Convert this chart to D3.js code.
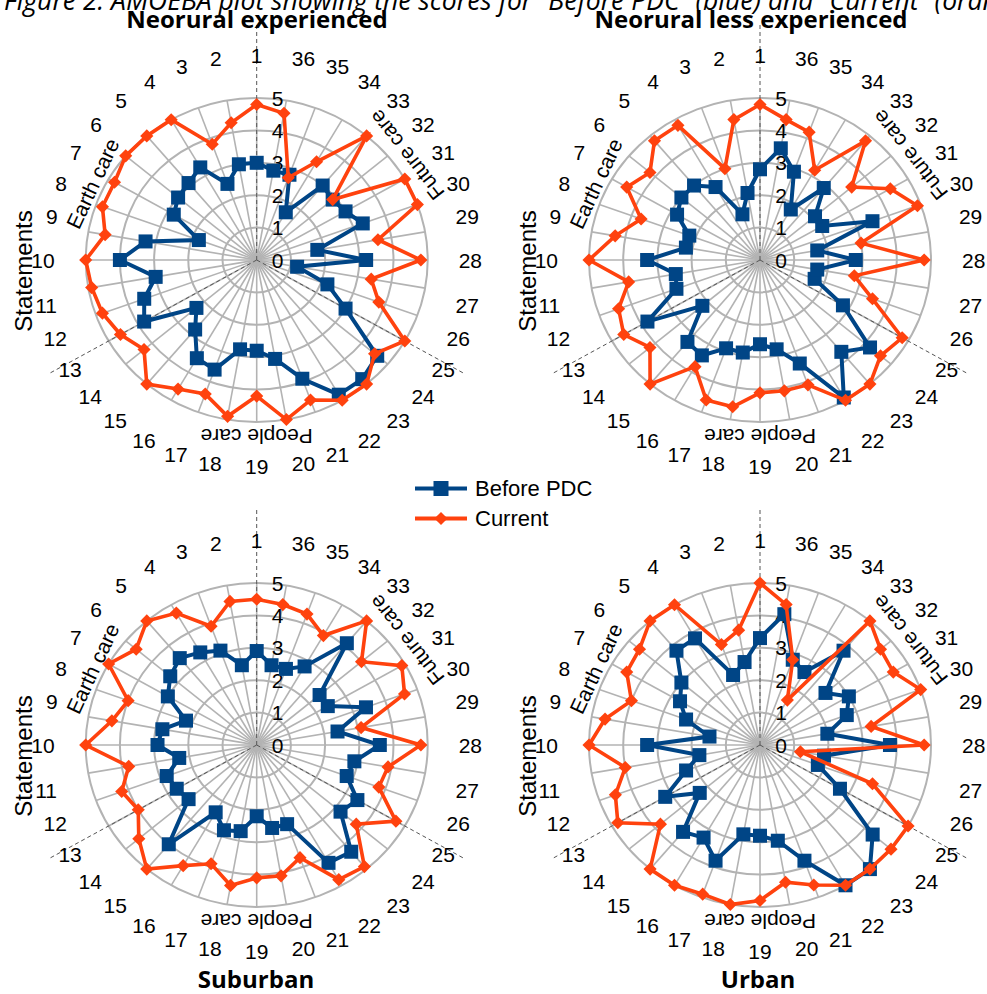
<!DOCTYPE html>
<html><head><meta charset="utf-8">
<script src="https://cdn.jsdelivr.net/npm/d3@7"></script>
<style>body{margin:0;background:#fff}svg{display:block}</style>
</head><body>
<svg id="c" width="987" height="994"></svg>
<script>
// ---------- data ----------
const statements = d3.range(1, 37);            // statement numbers 1..36
const radialTicks = [0, 1, 2, 3, 4, 5];
const seriesNames = ["Before PDC", "Current"];
const seriesColors = ["#004586", "#ff420e"];
const categoryLabels = ["Earth care", "People care", "Future care"];
const panelTitles = ["Neorural experienced", "Neorural less experienced", "Suburban", "Urban"];
const figureCaption = "Figure 2: AMOEBA plot showing the scores for \u201cBefore PDC\u201d (blue) and \u201cCurrent\u201d (orange)";

const neoExpBefore   = [3.0,3.0,2.5,3.3,3.1,3.0,2.8,1.8,3.3,4.0,3.0,3.5,3.8,2.3,2.8,3.5,3.6,2.8,2.8,3.1,3.9,4.8,4.8,4.6,3.0,2.2,1.2,3.2,1.8,3.3,3.0,2.9,3.0,1.7,2.8,2.8];
const neoExpCurrent  = [4.8,4.3,3.8,5.0,5.0,5.0,4.8,4.8,4.5,5.0,4.9,4.8,4.6,4.3,5.0,4.6,4.4,4.9,4.2,5.0,4.6,5.0,5.0,4.5,5.0,3.8,3.4,4.8,3.6,5.0,5.0,2.9,5.0,3.5,2.7,4.6];
const neoLessBefore  = [2.8,2.1,1.5,2.6,3.0,3.0,2.8,2.2,2.2,3.3,2.5,2.6,3.8,2.2,3.3,3.4,2.9,2.9,2.6,2.8,3.4,4.9,3.7,4.2,2.8,1.7,1.7,2.8,1.7,3.5,2.1,2.1,2.9,1.8,2.9,3.5];
const neoLessCurrent = [4.8,4.4,3.0,4.8,4.8,4.2,4.5,3.7,4.3,5.0,3.9,4.4,4.6,4.2,5.0,3.8,4.6,4.6,4.1,4.1,4.1,5.0,5.0,4.6,4.8,3.5,2.8,4.8,3.0,4.9,4.4,3.5,4.8,3.2,4.2,4.4];
const suburbanBefore = [2.9,2.5,3.1,3.3,3.5,3.3,3.0,2.2,2.8,2.9,2.3,2.8,2.7,2.6,4.0,2.4,2.8,2.7,2.2,2.6,2.6,4.2,4.3,3.2,3.4,2.8,2.9,3.6,2.4,3.4,2.4,2.4,4.1,2.8,2.5,2.5];
const suburbanCurrent= [4.5,4.5,3.9,4.7,5.0,4.6,5.0,4.0,4.3,5.0,3.8,4.2,4.0,4.5,5.0,4.3,3.9,4.4,4.1,4.1,3.7,4.8,4.9,3.8,4.7,3.8,3.9,4.8,3.1,4.6,4.9,4.0,5.0,3.9,4.3,4.4];
const urbanBefore    = [3.3,2.6,2.3,3.8,3.8,3.0,2.7,2.3,1.5,3.3,1.8,2.3,3.2,2.3,3.5,3.3,3.8,2.8,2.8,3.0,3.8,5.0,5.0,4.3,2.7,1.8,1.9,3.8,2.0,2.7,3.0,2.5,3.8,2.6,2.8,4.1];
const urbanCurrent   = [5.0,3.6,3.3,5.0,5.0,4.6,4.5,4.0,4.6,5.0,4.0,4.5,4.8,3.8,5.0,5.0,4.9,5.0,4.8,4.3,4.6,5.0,5.0,5.0,5.0,3.5,1.2,4.8,3.3,5.0,4.5,4.6,5.0,1.6,2.8,4.4];

const panels = [
  {title: panelTitles[0], series: [neoExpBefore, neoExpCurrent]},
  {title: panelTitles[1], series: [neoLessBefore, neoLessCurrent]},
  {title: panelTitles[2], series: [suburbanBefore, suburbanCurrent]},
  {title: panelTitles[3], series: [urbanBefore, urbanCurrent]}
];

// ---------- layout ----------
const svg = d3.select("#c");
const centers = [[256.7, 260], [760, 260], [256.7, 745], [760, 745]];
const titlePos = [[257, 28], [751, 28], [256, 988], [758, 988]];
const RX = 171, RY = 162;   // pixel radius of value 5 (horizontal / vertical)
const rx = d3.scaleLinear().domain([0, 5]).range([0, RX]);
const ry = d3.scaleLinear().domain([0, 5]).range([0, RY]);
const angle = d3.scaleLinear().domain([1, 37]).range([0, 2 * Math.PI]); // CCW from top
const numFont = "'Liberation Sans', Arial, sans-serif";
const labFS = 21;

function pt(k, v) {
  const a = angle(k);
  return [-Math.sin(a) * rx(v), -Math.cos(a) * ry(v)];
}

// caption (cut at top, as in the source)
svg.append("text").attr("x", 4).attr("y", 10)
  .attr("font-family", "'Open Sans', sans-serif").attr("font-style", "italic")
  .attr("font-size", 26.5).attr("fill", "#000").text(figureCaption);

panels.forEach((p, i) => {
  const [cx, cy] = centers[i];
  const g = svg.append("g").attr("transform", `translate(${cx},${cy})`);

  // rings
  g.selectAll("ellipse.ring").data(radialTicks.filter(d => d > 0)).join("ellipse")
    .attr("rx", d => rx(d)).attr("ry", d => ry(d))
    .attr("fill", "none").attr("stroke", "#b3b3b3").attr("stroke-width", 2);
  // spokes
  g.selectAll("line.spoke").data(statements).join("line")
    .attr("x1", 0).attr("y1", 0)
    .attr("x2", d => pt(d, 5)[0]).attr("y2", d => pt(d, 5)[1])
    .attr("stroke", "#b3b3b3").attr("stroke-width", 1.6);

  // dashed category separators (between 36|1, 12|13, 24|25)
  [0.5, 12.5, 24.5].forEach(k => {
    const [ux, uy] = pt(k + 0.5, 5);
    const len = Math.hypot(ux, uy), L = 238;
    g.append("line").attr("x1", 0).attr("y1", 0)
      .attr("x2", ux / len * L).attr("y2", uy / len * L)
      .attr("stroke", "#555").attr("stroke-width", 1).attr("stroke-dasharray", "4,3");
  });

  // value tick labels
  g.selectAll("text.tick").data(radialTicks).join("text")
    .attr("x", 21).attr("y", d => -ry(d)).attr("dy", "0.36em")
    .attr("text-anchor", "middle").attr("font-family", numFont).attr("font-size", labFS)
    .attr("fill", "#000").text(d => d);

  // statement labels: nearest corner of the label box sits on an outer ellipse
  g.selectAll("text.stmt").data(statements).join("text")
    .each(function(d) {
      const a = angle(d), s = String(d);
      const hw = s.length * 0.556 * labFS / 2;
      const dx = -Math.sin(a), dy = -Math.cos(a);
      const sx = Math.abs(dx) < 1e-6 ? 0 : Math.sign(dx);
      const sy = Math.abs(dy) < 1e-6 ? 0 : Math.sign(dy);
      const x = dx * 202 + sx * hw;
      const y = dy * 195 + (sy < 0 ? -10 : (sy > 0 ? 11.5 : 0));
      d3.select(this).attr("x", x).attr("y", y);
    })
    .attr("dy", "0.36em").attr("text-anchor", "middle")
    .attr("font-family", numFont).attr("font-size", labFS).attr("fill", "#000")
    .text(d => d);

  // category labels along the ring
  const catSpec = [
    {t: categoryLabels[0], phi: 65, r: 181, rot: -65},
    {t: categoryLabels[1], phi: 180, r: 177, rot: 180},
    {t: categoryLabels[2], phi: -55, r: 183, rot: -128}
  ];
  catSpec.forEach(c => {
    const a = c.phi * Math.PI / 180;
    const x = -Math.sin(a) * c.r, y = -Math.cos(a) * c.r;
    g.append("text").attr("transform", `translate(${x},${y}) rotate(${c.rot})`)
      .attr("text-anchor", "middle").attr("dy", "0.36em")
      .attr("font-family", numFont).attr("font-size", labFS).attr("fill", "#000").text(c.t);
  });

  // axis title
  g.append("text").attr("transform", `translate(-233,11) rotate(-90)`)
    .attr("text-anchor", "middle").attr("dy", "0.36em")
    .attr("font-family", numFont).attr("font-size", 24).attr("fill", "#000").text("Statements");

  // series
  const line = d3.line().x(d => d[0]).y(d => d[1]).curve(d3.curveLinearClosed);
  p.series.forEach((vals, si) => {
    const pts = vals.map((v, j) => pt(statements[j], v));
    g.append("path").attr("d", line(pts)).attr("fill", "none")
      .attr("stroke", seriesColors[si]).attr("stroke-width", si === 0 ? 4 : 3.6)
      .attr("stroke-linejoin", "miter");
    const m = g.append("g");
    if (si === 0) {
      m.selectAll("rect").data(pts).join("rect")
        .attr("x", d => d[0] - 7).attr("y", d => d[1] - 7).attr("width", 14).attr("height", 14)
        .attr("fill", seriesColors[si]);
    } else {
      m.selectAll("path").data(pts).join("path")
        .attr("d", d3.symbol(d3.symbolDiamond2 || d3.symbolDiamond, 110))
        .attr("transform", d => `translate(${d[0]},${d[1]})`)
        .attr("fill", seriesColors[si]);
    }
  });

  // panel title
  svg.append("text").attr("x", titlePos[i][0]).attr("y", titlePos[i][1])
    .attr("text-anchor", "middle").attr("font-family", "'Open Sans', sans-serif")
    .attr("font-weight", "bold").attr("font-size", 24).attr("fill", "#000").text(p.title);
});

// legend
const leg = svg.append("g");
seriesNames.forEach((n, i) => {
  const y = 488.5 + i * 30;
  leg.append("line").attr("x1", 415).attr("x2", 467).attr("y1", y).attr("y2", y)
    .attr("stroke", seriesColors[i]).attr("stroke-width", 4);
  if (i === 0) {
    leg.append("rect").attr("x", 441 - 7.5).attr("y", y - 7.5).attr("width", 15).attr("height", 15)
      .attr("fill", seriesColors[i]);
  } else {
    leg.append("path").attr("d", d3.symbol(d3.symbolDiamond2 || d3.symbolDiamond, 110))
      .attr("transform", `translate(441,${y})`).attr("fill", seriesColors[i]);
  }
  leg.append("text").attr("x", 475).attr("y", y).attr("dy", "0.36em")
    .attr("font-family", numFont).attr("font-size", 22).attr("fill", "#000").text(n);
});
</script>
</body></html>
